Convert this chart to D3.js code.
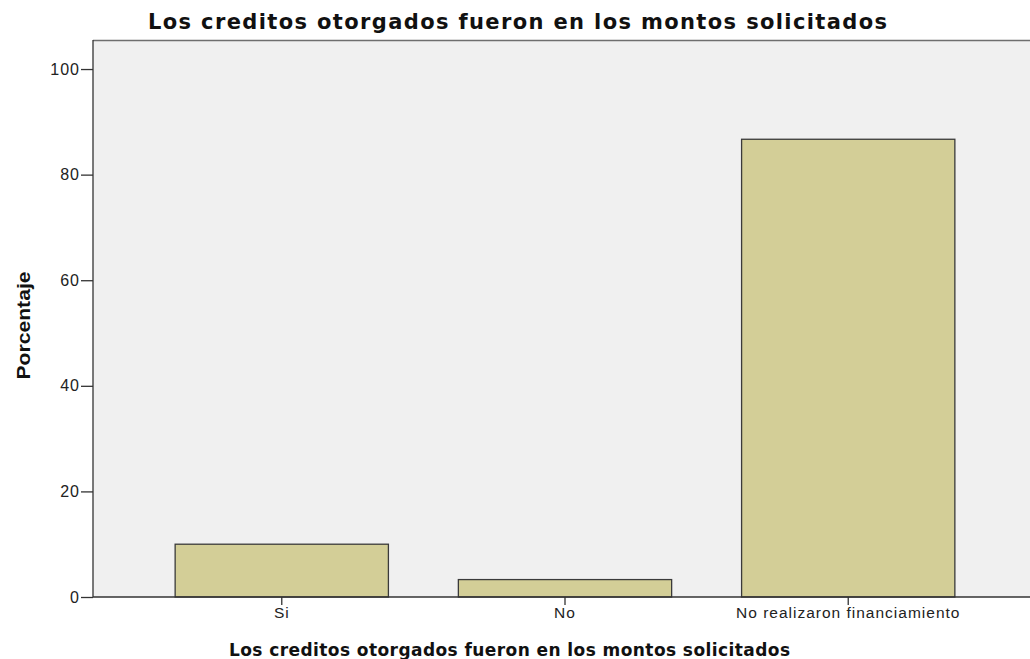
<!DOCTYPE html>
<html>
<head>
<meta charset="utf-8">
<script src="https://cdn.jsdelivr.net/npm/d3@7"></script>
<style>
  html, body { margin: 0; padding: 0; background: #fff; overflow: hidden; }
  svg { display: block; }
</style>
</head>
<body>
<div id="chart"></div>
<script>
// data
categories = ["Si", "No", "No realizaron financiamiento"]
percentages = [10.0, 3.3, 86.7]
yTicks = [0, 20, 40, 60, 80, 100]
chartTitle = "Los creditos otorgados fueron en los montos solicitados"
yTitle = "Porcentaje"

width = 1030
height = 659
margin = ({ top: 40, right: -7, bottom: 62, left: 93 })

data = categories.map((c, i) => ({ cat: c, pct: percentages[i] }))

x = d3.scaleBand()
   .domain(categories)
   .range([margin.left, width - margin.right])
   .paddingInner(0.247)
   .paddingOuter(0.29)

y = d3.scaleLinear()
   .domain([0, 105.5])
   .range([height - margin.bottom, margin.top])

const svg = d3.create("svg")
   .attr("width", width)
   .attr("height", height)
   .attr("viewBox", [0, 0, width, height])

// plot background (runs past the right edge, as in the original)
svg.append("rect")
   .attr("x", margin.left)
   .attr("y", margin.top)
   .attr("width", width - margin.left)
   .attr("height", height - margin.bottom - margin.top)
   .attr("fill", "#f0f0f0")

// top frame line
svg.append("line")
   .attr("x1", margin.left).attr("x2", width)
   .attr("y1", margin.top + 0.5).attr("y2", margin.top + 0.5)
   .attr("stroke", "#6e6e6e")
   .attr("stroke-width", 1.5)

// bars
svg.append("g")
   .selectAll("rect")
   .data(data)
   .join("rect")
   .attr("x", d => x(d.cat))
   .attr("y", d => y(d.pct))
   .attr("width", x.bandwidth())
   .attr("height", d => y(0) - y(d.pct))
   .attr("fill", "#d3ce97")
   .attr("stroke", "#3a3a3a")
   .attr("stroke-width", 1.3)

yAxis = g => g
   .attr("transform", `translate(${margin.left},0)`)
   .call(d3.axisLeft(y).tickValues(yTicks).tickSize(12).tickPadding(1).tickSizeOuter(0))
   .call(g => g.select(".domain").attr("stroke", "#333").attr("stroke-width", 1.3)
      .attr("d", `M0,${margin.top}V${y(0)}`))
   .call(g => g.selectAll(".tick line").attr("stroke", "#333").attr("stroke-width", 1.3))
   .call(g => g.selectAll(".tick text")
      .attr("fill", "#222")
      .attr("font-family", "Liberation Sans, Arial, sans-serif")
      .attr("font-size", 16)
      .attr("letter-spacing", 1))

xAxis = g => g
   .attr("transform", `translate(0,${y(0)})`)
   .call(d3.axisBottom(x).tickSize(8).tickPadding(2).tickSizeOuter(0))
   .call(g => g.select(".domain").attr("stroke", "#333").attr("stroke-width", 1.3)
      .attr("d", `M${margin.left},0H${width}`))
   .call(g => g.selectAll(".tick line").attr("stroke", "#333").attr("stroke-width", 1.3))
   .call(g => g.selectAll(".tick text")
      .attr("fill", "#222")
      .attr("font-family", "Liberation Sans, Arial, sans-serif")
      .attr("font-size", 15.5)
      .attr("letter-spacing", 1))

svg.append("g").call(yAxis)
svg.append("g").call(xAxis)

// titles
svg.append("text")
   .attr("x", 148)
   .attr("y", 29)
   .attr("textLength", 739)
   .attr("lengthAdjust", "spacing")
   .attr("font-family", "DejaVu Sans, Verdana, sans-serif")
   .attr("font-weight", "bold")
   .attr("font-size", 21)
   .attr("fill", "#111")
   .text(chartTitle)

svg.append("text")
   .attr("x", 229)
   .attr("y", 656)
   .attr("textLength", 561)
   .attr("lengthAdjust", "spacing")
   .attr("font-family", "DejaVu Sans, Verdana, sans-serif")
   .attr("font-weight", "bold")
   .attr("font-size", 17)
   .attr("fill", "#111")
   .text(chartTitle)

svg.append("text")
   .attr("transform", `translate(30,${(margin.top + y(0)) / 2 + 7}) rotate(-90)`)
   .attr("text-anchor", "middle")
   .attr("textLength", 108)
   .attr("lengthAdjust", "spacingAndGlyphs")
   .attr("font-family", "Liberation Sans Narrow, Arial Narrow, Liberation Sans, sans-serif")
   .attr("font-weight", "bold")
   .attr("font-size", 19)
   .attr("fill", "#111")
   .text(yTitle)

d3.select("#chart").node().append(svg.node())
</script>
</body>
</html>
